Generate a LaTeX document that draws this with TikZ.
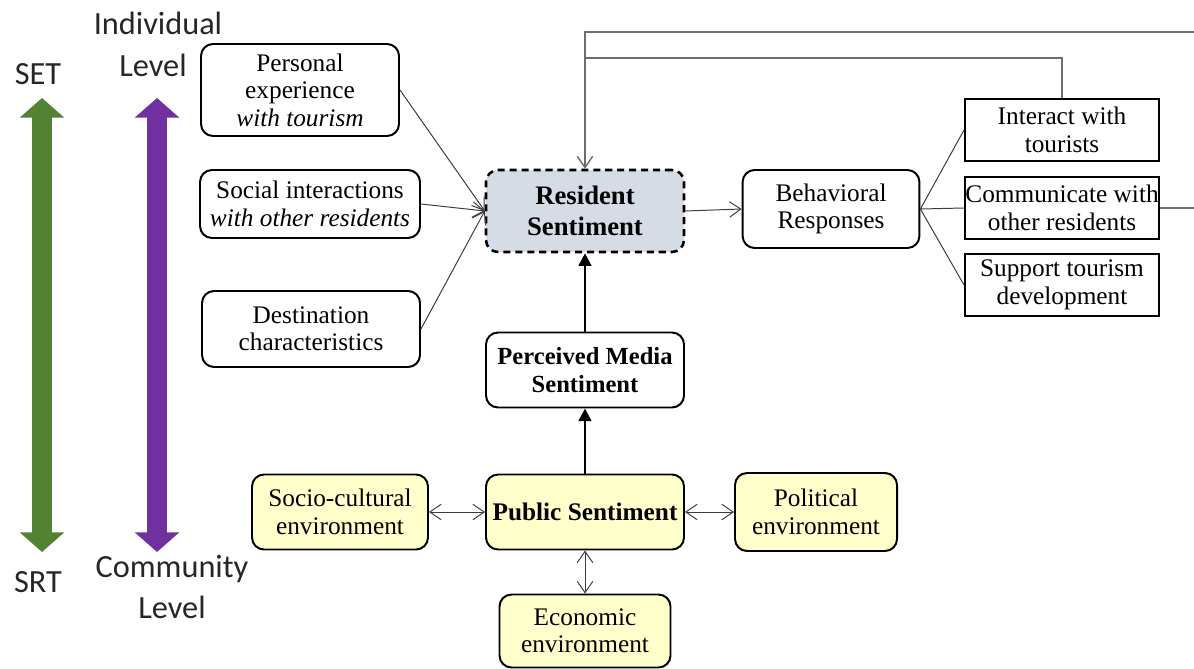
\documentclass[tikz,border=0pt]{standalone}
\usepackage{fontspec}
\setmainfont{Liberation Serif}
\newfontfamily\lvlfont{Carlito}
\usetikzlibrary{arrows.meta}

\definecolor{setgreen}{RGB}{84,130,53}
\definecolor{lvlpurple}{RGB}{112,48,160}
\definecolor{resfill}{RGB}{214,220,229}
\definecolor{envfill}{RGB}{255,255,204}
\definecolor{linegray}{RGB}{60,60,60}
\definecolor{fbgray}{RGB}{110,110,110}

\begin{document}
\begin{tikzpicture}[x=0.25mm, y=-0.25mm,
    box/.style={draw, line width=1.4pt, rounded corners=3mm, align=center, inner sep=2pt,
      font=\fontsize{18}{19.5}\selectfont},
    sqbox/.style={box, rounded corners=0pt, inner xsep=0pt, minimum width=4.85cm, minimum height=1.55cm},
    envbox/.style={box, fill=envfill},
    lvl/.style={font=\lvlfont\fontsize{23}{26}\selectfont, text=black!85},
    conn/.style={draw=linegray, line width=0.7pt, -{Straight Barb[length=8pt,width=11pt]}},
    twoway/.style={conn, {Straight Barb[length=8pt,width=11pt]}-{Straight Barb[length=8pt,width=11pt]}},
    fbline/.style={draw=fbgray, line width=1pt},
    strong/.style={line width=1.8pt, -{Triangle[length=9pt,width=9pt]}},
    big/.style={line width=14.5pt, {Triangle[length=14pt,width=31pt]}-{Triangle[length=14pt,width=31pt]}}]
  \useasboundingbox (0,0) rectangle (1194,669);

  \node[lvl, anchor=base] (set) at (38,85) {SET};
  \node[lvl, anchor=base] (srt) at (38,592) {SRT};
  \node[lvl, anchor=base] (indiv) at (158,35) {Individual};
  \node[lvl, anchor=base] (lvltop) at (153,77) {Level};
  \node[lvl, anchor=base] (comty) at (172,577) {Community};
  \node[lvl, anchor=base] (lvlbot) at (172,618) {Level};
  \coordinate (setTop) at (42,98);
  \coordinate (setBot) at (42,552);
  \coordinate (lvlTop) at (157,98);
  \coordinate (lvlBot) at (157,552);
  \draw[big, setgreen] (setTop) -- (setBot);
  \draw[big, lvlpurple] (lvlTop) -- (lvlBot);

  \node[box, minimum width=4.95cm, minimum height=2.3cm] (pers) at (300,90) {Personal\\experience\\\textit{with tourism}};
  \node[box, minimum width=5.5cm, minimum height=1.7cm] (soc) at (310,204) {Social interactions\\\textit{with other residents}};
  \node[box, minimum width=5.45cm, minimum height=1.9cm] (dest) at (311,329) {Destination\\characteristics};
  \node[box, dashed, dash pattern=on 5pt off 3.5pt, fill=resfill, line width=1.8pt, minimum width=4.95cm,
    minimum height=2.05cm, font=\bfseries\fontsize{19}{22.5}\selectfont] (res) at (585,211) {Resident\\Sentiment};
  \node[box, minimum width=4.42cm, minimum height=1.95cm] (beh) at (831,209) {Behavioral\\Responses};
  \node[sqbox] (inter) at (1062,130) {Interact with\\tourists};
  \node[sqbox] (comm) at (1062,208) {Communicate with\\other residents};
  \node[sqbox] (supp) at (1062,285) {Support tourism\\development};
  \node[box, minimum width=4.95cm, minimum height=1.875cm, font=\bfseries\fontsize{17.5}{20}\selectfont] (med) at (585,370) {Perceived Media\\Sentiment};
  \node[envbox, minimum width=4.95cm, minimum height=1.875cm, font=\bfseries\fontsize{18}{20}\selectfont] (pub) at (585,512) {Public Sentiment};
  \node[envbox, minimum width=4.4cm, minimum height=1.875cm] (socio) at (340,512) {Socio-cultural\\environment};
  \node[envbox, minimum width=4.05cm, minimum height=1.95cm] (pol) at (816,512) {Political\\environment};
  \node[envbox, minimum width=4.275cm, minimum height=1.825cm] (econ) at (585,631) {Economic\\environment};

  \draw[conn] (pers.east) -- (res.west);
  \draw[conn] (soc.east) -- (res.west);
  \draw[conn] (dest.east) -- (res.west);
  \draw[conn] (res.east) -- (beh.west);
  \draw[linegray, line width=0.7pt] (beh.east) -- (inter.west) (beh.east) -- (comm.west) (beh.east) -- (supp.west);
  \coordinate (outR) at (1194,208);
  \coordinate (outT) at (1194,32);
  \draw[fbline] (comm.east) -- (outR);
  \draw[fbline, -{Straight Barb[length=8pt,width=11pt]}] (outT) -| (res.north);
  \draw[fbline] (inter.north) |- (res.north |- 0,58);
  \draw[strong] (med.north) -- (res.south);
  \draw[strong] (pub.north) -- (med.south);
  \draw[twoway] (socio.east) -- (pub.west);
  \draw[twoway] (pub.east) -- (pol.west);
  \draw[twoway] (pub.south) -- (econ.north);
\end{tikzpicture}
\end{document}
